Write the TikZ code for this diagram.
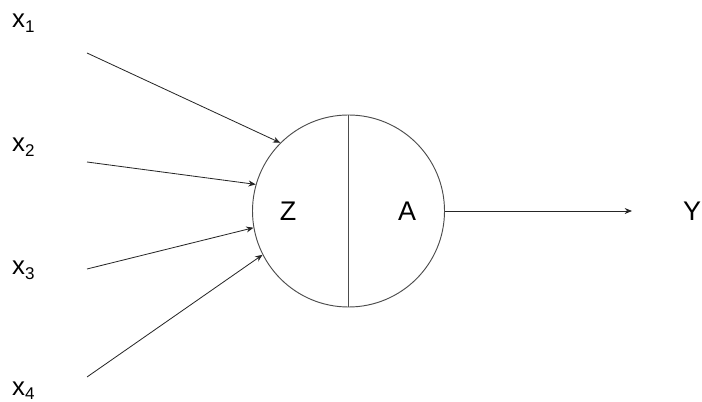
\documentclass[tikz,border=0pt]{standalone}
\usepackage{fontspec}
\setmainfont{Liberation Sans}
\usetikzlibrary{arrows.meta,positioning}

\newcommand{\insub}[1]{\raisebox{-4.2pt}{\fontsize{14.5}{17}\selectfont #1}}

\begin{document}
\begin{tikzpicture}[
    x=0.03cm, y=-0.03cm,
    inlabel/.style={anchor=base west, inner sep=0pt, font=\fontsize{22}{26}\selectfont},
    neuron/.style={circle, draw=black!70, line width=0.8pt, inner sep=0pt,
                   minimum size=5.76cm},
    link/.style={black!85, line width=0.7pt, -{Stealth[length=0.22cm, width=0.18cm]}},
    every node/.style={font=\fontsize{23}{27}\selectfont}
  ]

  % ---- Frame ----
  \useasboundingbox (0,0) rectangle (702,402);

  % ---- Inputs ----
  \node[inlabel] (x1) at (12,28)  {x\insub{1}};
  \node[inlabel] (x2) at (12,152) {x\insub{2}};
  \node[inlabel] (x3) at (12,275) {x\insub{3}};
  \node[inlabel] (x4) at (12,395) {x\insub{4}};

  \coordinate (s1) at (87,53);
  \coordinate (s2) at (87,162);
  \coordinate (s3) at (87,269);
  \coordinate (s4) at (87,377);

  % ---- Neuron ----
  \node[neuron] (N) at (348.5,211) {};
  \draw[black!70, line width=0.8pt] (N.north) -- (N.south);
  \node (Z) at (288,211) {Z};
  \node (A) at (407,211) {A};

  % ---- Output ----
  \node[inner sep=0pt] (Y) at (692,211) {Y};
  \coordinate (o) at (632,211);

  % ---- Connectors ----
  \draw[link] (s1) -- (N.135);
  \draw[link] (s2) -- (N.164);
  \draw[link] (s3) -- (N.190);
  \draw[link] (s4) -- (N.207);
  \draw[link] (N.east) -- (o);

\end{tikzpicture}
\end{document}
